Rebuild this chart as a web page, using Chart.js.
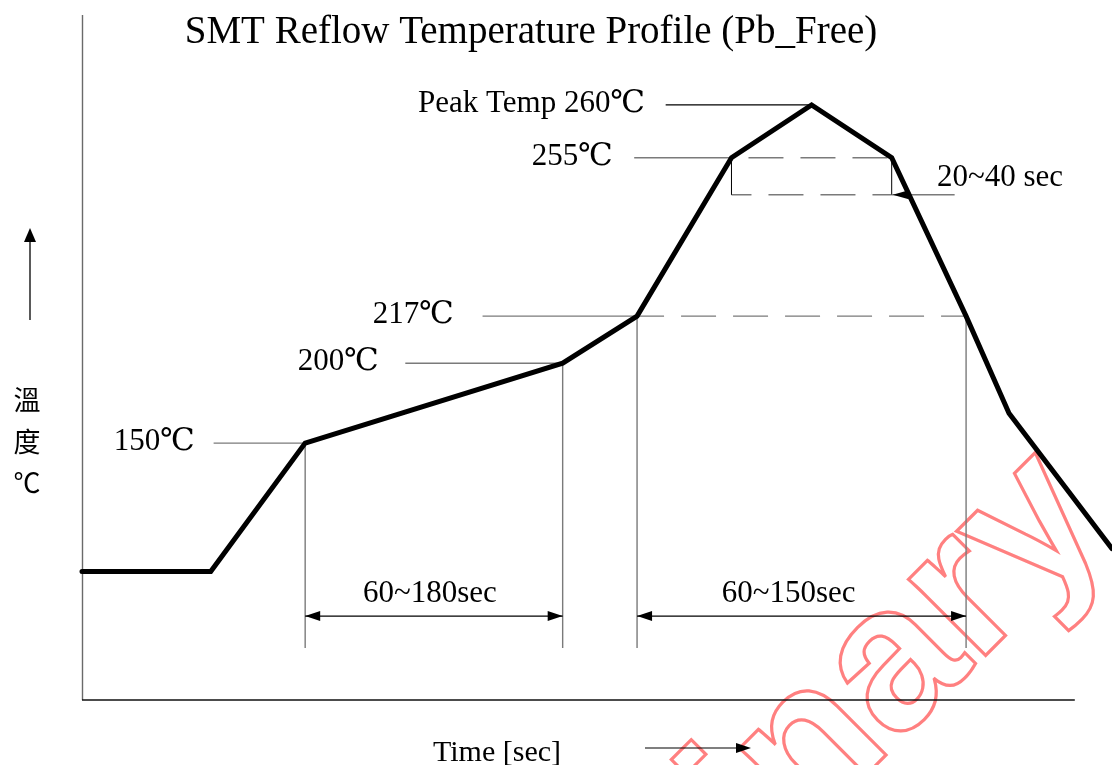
<!DOCTYPE html>
<html><head><meta charset="utf-8">
<script src="https://cdn.jsdelivr.net/npm/chart.js@4/dist/chart.umd.min.js"></script>
<style>html,body{margin:0;padding:0;background:#fff;}canvas{display:block;}</style>
</head><body>
<canvas id="c" width="1112" height="765"></canvas>
<script>
// ---- Data (schematic profile: time in sec, level = drawn temperature height) ----
const profileTime  = [0, 45, 78, 168, 194, 227, 255, 283, 309, 324, 360];
const profileLevel = [45, 45, 90, 118, 134.5, 190, 208.5, 190, 134.5, 100.5, 53];

// temperature call-outs
const tempLabels      = ['150℃', '200℃', '217℃', '255℃', 'Peak Temp 260℃'];
const tempPointIndex  = [2, 3, 4, 5, 6];
const leaderStartTime = [46, 113, 140, 193, 204];
const labelRightTime  = [39.5, 103.8, 130, 185.6, 196.8];

// duration call-outs
const spanLabels     = ['60~180sec', '60~150sec'];
const spanFromIndex  = [2, 4];
const spanToIndex    = [3, 8];
const spanTextTime   = [121.6, 247];
const windowLabel    = '20~40 sec';

const titleText  = 'SMT Reflow Temperature Profile (Pb_Free)';
const xAxisLabel = 'Time [sec]';
const yAxisChars = ['溫', '度', '℃'];

// ---- Layout constants (levels on the schematic scale) ----
const LEVEL_SPAN_ARROW = 29.4, LEVEL_GUIDE_BOTTOM = 18.2, LEVEL_SPAN_TEXT = 34.3;
const LEVEL_WINDOW_BOTTOM = 177, WINDOW_ARROW_END_T = 305, WINDOW_TEXT_T = 298.8;
const X_AXIS_END_T = 347;

const SERIF = '"Liberation Serif", "DejaVu Serif", serif';
const GRAY = '#7a7a7a';

function seg(ctx, x1, y1, x2, y2, color, w, dash, off) {
  ctx.save();
  ctx.beginPath();
  ctx.strokeStyle = color; ctx.lineWidth = w;
  ctx.setLineDash(dash || []); ctx.lineDashOffset = off || 0;
  ctx.moveTo(x1, y1); ctx.lineTo(x2, y2); ctx.stroke();
  ctx.restore();
}
function head(ctx, x, y, dx, dy, len, half) {
  const bx = x - dx * len, by = y - dy * len;
  ctx.save();
  ctx.beginPath(); ctx.moveTo(x, y);
  ctx.lineTo(bx - dy * half, by + dx * half);
  ctx.lineTo(bx + dy * half, by - dx * half);
  ctx.closePath(); ctx.fillStyle = '#000'; ctx.fill();
  ctx.restore();
}

const diagram = {
  id: 'diagram',
  beforeDatasetsDraw(chart) {
    const ctx = chart.ctx, xs = chart.scales.x, ys = chart.scales.y;
    const X = v => xs.getPixelForValue(v), Y = v => ys.getPixelForValue(v);
    const a = chart.chartArea;
    // watermark
    ctx.save();
    ctx.translate(323, 1318);
    ctx.rotate(-45 * Math.PI / 180);
    ctx.font = 'bold 205px "Liberation Sans", Arial, sans-serif';
    ctx.strokeStyle = 'rgb(255,128,128)';
    ctx.lineWidth = 3.2; ctx.lineJoin = 'miter';
    ctx.strokeText('Preliminary', 0, 0);
    ctx.restore();

    // axes
    seg(ctx, a.left + 0.5, a.top, a.left + 0.5, a.bottom, '#6a6a6a', 1.4);
    seg(ctx, a.left, a.bottom, X(X_AXIS_END_T), a.bottom, '#111', 1.3);

    // temperature leaders
    tempPointIndex.forEach((pi, k) => {
      const y = Y(profileLevel[pi]);
      const color = k === 4 ? '#000' : GRAY;
      seg(ctx, X(leaderStartTime[k]), y, X(profileTime[pi]), y, color, 1.4);
    });
    // 217 dashed continuation
    const i217 = 4, i217r = 8;
    seg(ctx, X(profileTime[i217]), Y(profileLevel[i217]), X(profileTime[i217r]), Y(profileLevel[i217r]), GRAY, 1.4, [35, 17], 8);
    // 255 dashed top + window box
    const i255 = 5, i255r = 7;
    const yTop = Y(profileLevel[i255]), yBot = Y(LEVEL_WINDOW_BOTTOM);
    const xl = X(profileTime[i255]), xr = X(profileTime[i255r]);
    seg(ctx, xl, yTop, xr, yTop, GRAY, 1.4, [35, 17], 35);
    seg(ctx, xl, yBot, xr, yBot, GRAY, 1.4, [35, 17], 15);
    seg(ctx, xl, yTop, xl, yBot, '#000', 1);
    seg(ctx, xr, yTop, xr, yBot, '#000', 1);
    seg(ctx, xr, yBot, X(WINDOW_ARROW_END_T), yBot, GRAY, 1.4);

    // vertical guides
    [2, 3, 4, 8].forEach(pi => {
      seg(ctx, X(profileTime[pi]), Y(profileLevel[pi]), X(profileTime[pi]), Y(LEVEL_GUIDE_BOTTOM), GRAY, 1.4);
    });
  },
  afterDatasetsDraw(chart) {
    const ctx = chart.ctx, xs = chart.scales.x, ys = chart.scales.y;
    const X = v => xs.getPixelForValue(v), Y = v => ys.getPixelForValue(v);

    // window arrow head
    head(ctx, X(profileTime[7]) + 1, Y(LEVEL_WINDOW_BOTTOM), -1, 0, 16, 4.5);

    // span arrows
    const ya = Y(LEVEL_SPAN_ARROW);
    spanLabels.forEach((lbl, k) => {
      const x1 = X(profileTime[spanFromIndex[k]]), x2 = X(profileTime[spanToIndex[k]]);
      seg(ctx, x1, ya, x2, ya, '#000', 1.2);
      head(ctx, x1, ya, -1, 0, 15, 5);
      head(ctx, x2, ya, 1, 0, 15, 5);
      ctx.save();
      ctx.font = '31px ' + SERIF; ctx.fillStyle = '#000';
      ctx.textAlign = 'center'; ctx.textBaseline = 'alphabetic';
      ctx.fillText(lbl, X(spanTextTime[k]), Y(LEVEL_SPAN_TEXT));
      ctx.restore();
    });

    // temperature labels
    ctx.save();
    ctx.font = '31px ' + SERIF; ctx.fillStyle = '#000';
    ctx.textAlign = 'right'; ctx.textBaseline = 'alphabetic';
    tempPointIndex.forEach((pi, k) => {
      ctx.fillText(tempLabels[k], X(labelRightTime[k]), Y(profileLevel[pi]) + 7);
    });
    ctx.textAlign = 'left'; ctx.textBaseline = 'middle';
    ctx.fillText(windowLabel, X(WINDOW_TEXT_T), Y(LEVEL_WINDOW_BOTTOM) - 17);
    ctx.restore();

    // title
    ctx.save();
    ctx.font = '39px ' + SERIF; ctx.fillStyle = '#000';
    ctx.textAlign = 'center'; ctx.textBaseline = 'alphabetic';
    ctx.fillText(titleText, 531, 43);
    // x axis label and arrow
    ctx.font = '30px ' + SERIF;
    ctx.fillText(xAxisLabel, 497, 761);
    ctx.restore();
    seg(ctx, 645, 748, 740, 748, '#000', 1.2);
    head(ctx, 751, 748, 1, 0, 15, 5);

    // y axis label (vertical) and arrow
    ctx.save();
    ctx.font = '27px "Noto Sans CJK TC", sans-serif'; ctx.fillStyle = '#000';
    ctx.textAlign = 'center'; ctx.textBaseline = 'middle';
    const yMid = [400, 442, 483];
    yAxisChars.forEach((ch, i) => ctx.fillText(ch, 27, yMid[i]));
    ctx.restore();
    seg(ctx, 30, 320, 30, 238, '#000', 1.3);
    head(ctx, 30, 228, 0, -1, 14, 6);
  }
};

new Chart(document.getElementById('c').getContext('2d'), {
  type: 'line',
  data: {
    datasets: [{
      data: profileTime.map((t, i) => ({ x: t, y: profileLevel[i] })),
      borderColor: '#000', borderWidth: 5, pointRadius: 0, tension: 0,
      borderJoinStyle: 'miter', borderCapStyle: 'round', clip: false, fill: false
    }]
  },
  options: {
    responsive: false, animation: false,
    layout: { padding: { left: 82, top: 15, right: 0, bottom: 65 } },
    scales: {
      x: { type: 'linear', min: 0, max: 360, display: false },
      y: { type: 'linear', min: 0, max: 240, display: false }
    },
    plugins: { legend: { display: false }, tooltip: { enabled: false }, title: { display: false } }
  },
  plugins: [diagram]
});
</script>
</body></html>
